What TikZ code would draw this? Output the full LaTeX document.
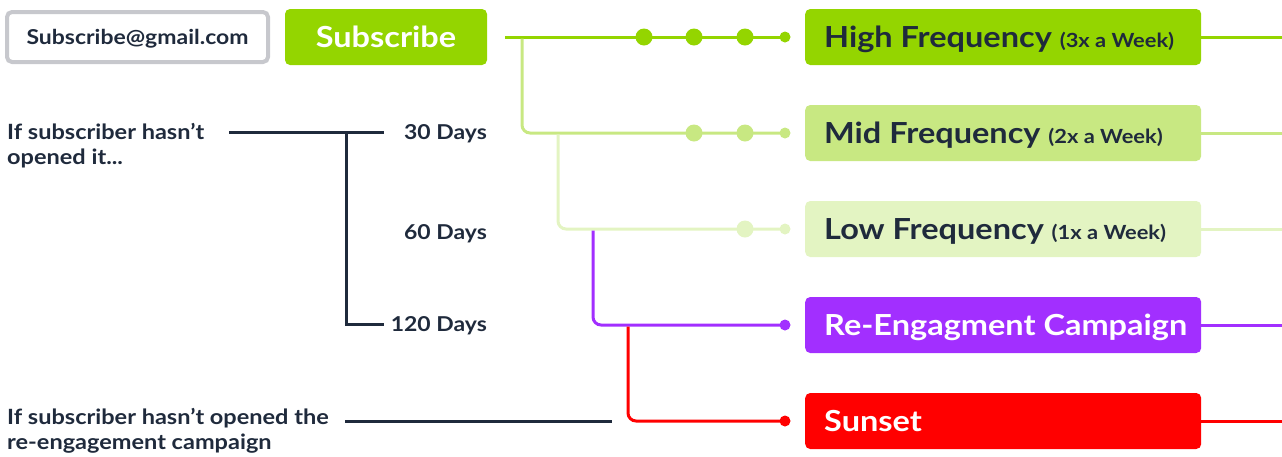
\documentclass[tikz,border=0pt]{standalone}
\usepackage{fontspec}
\setmainfont{Lato}[FakeStretch=1.12]
\definecolor{hi}{HTML}{94D500}
\definecolor{mid}{HTML}{C8E882}
\definecolor{low}{HTML}{E3F4C2}
\definecolor{pur}{HTML}{A22FFF}
\definecolor{sun}{HTML}{FF0000}
\definecolor{ink}{HTML}{1F2A3C}
\definecolor{gry}{HTML}{C7C8CD}
\newcommand\smtxt[1]{{\bfseries\fontsize{19.5}{20}\selectfont #1}}
\begin{document}
\begin{tikzpicture}[x=1pt,y=-1pt,
  box/.style={rounded corners=5pt, minimum width=396pt, minimum height=56pt,
    anchor=west, inner sep=0pt, text width=358pt, align=flush left,
    text height=21pt, text depth=0pt,
    font=\bfseries\fontsize{29}{30}\selectfont},
  lbl/.style={font=\bfseries\fontsize{21}{25}\selectfont, text=ink, inner sep=0pt, align=flush left},
  days/.style={font=\bfseries\fontsize{20.5}{20}\selectfont, text=ink, inner sep=0pt, anchor=east},
  wire/.style={line width=3pt},
  big/.style={radius=8.5pt},
  small/.style={radius=5.5pt}]
\useasboundingbox (0,0) rectangle (1282,456);

% top-left input and button
\node[draw=gry, line width=4pt, fill=white, rounded corners=5pt, minimum width=261pt,
  minimum height=50pt, inner sep=0pt, text=ink, text height=15pt, text depth=0pt,
  font=\bfseries\fontsize{20.5}{22}\selectfont] (mail) at (137.5,37) {Subscribe@gmail.com};
\node[fill=hi, rounded corners=5pt, minimum width=202pt, minimum height=56pt, inner sep=0pt,
  text=white, text height=21pt, text depth=0pt,
  font=\bfseries\fontsize{29}{30}\selectfont] (sub) at (386,37) {Subscribe};

% right boxes
\node[box, fill=hi, text=ink] (high) at (805,37) {\mbox{High Frequency \smtxt{(3x a Week)}}};
\node[box, fill=mid, text=ink] (midf) at (805,133) {\mbox{Mid Frequency \smtxt{(2x a Week)}}};
\node[box, fill=low, text=ink] (lowf) at (805,229) {\mbox{Low Frequency \smtxt{(1x a Week)}}};
\node[box, fill=pur, text=white] (reen) at (805,325) {\mbox{Re-Engagment Campaign}};
\node[box, fill=sun, text=white] (sunset) at (805,421) {Sunset};

% coordinates
\coordinate (s0) at (505,37);
\coordinate (e1) at (785,37);
\coordinate (e2) at (785,133);
\coordinate (e3) at (785,229);
\coordinate (e4) at (785,325);
\coordinate (e5) at (785,421);
\coordinate (b1) at (522,38.5);
\coordinate (b2) at (558,134.5);
\coordinate (b3) at (593,230.5);
\coordinate (b4) at (628,326.5);

% green tree
\draw[wire, hi] (s0) -- (e1);
\fill[hi] (644,37) circle[big] (694,37) circle[big] (745,37) circle[big] (e1) circle[small];
\draw[wire, mid, rounded corners=8pt] (b1) |- (e2);
\fill[mid] (694,133) circle[big] (745,133) circle[big] (e2) circle[small];
\draw[wire, low, rounded corners=8pt] (b2) |- (e3);
\fill[low] (745,229) circle[big] (e3) circle[small];
\draw[wire, pur, rounded corners=8pt] (b3) |- (e4);
\fill[pur] (e4) circle[small];
\draw[wire, sun, rounded corners=8pt] (b4) |- (e5);
\fill[sun] (e5) circle[small];

% tails
\coordinate (t1) at (1282,37);
\coordinate (t2) at (1282,133);
\coordinate (t3) at (1282,229);
\coordinate (t4) at (1282,325);
\coordinate (t5) at (1282,421);
\draw[wire, hi] (high.east) -- (t1);
\draw[wire, mid] (midf.east) -- (t2);
\draw[wire, low] (lowf.east) -- (t3);
\draw[wire, pur] (reen.east) -- (t4);
\draw[wire, sun] (sunset.east) -- (t5);

% left labels
\node[lbl, anchor=base west] (q1) at (7,164) {If subscriber hasn’t\\opened it...};
\node[lbl, anchor=base west] (q2) at (7,449.5) {If subscriber hasn’t opened the\\re-engagement campaign};
\node[days, anchor=base east] (d30) at (487,139.5) {30 Days};
\node[days, anchor=base east] (d60) at (487,239.5) {60 Days};
\node[days, anchor=base east] (d120) at (487,331.5) {120 Days};

\coordinate (l0) at (229,132);
\coordinate (l1) at (384,132);
\coordinate (lj) at (346,132);
\coordinate (l2) at (384,324);
\coordinate (m0) at (345,421);
\coordinate (m1) at (612,421);
\draw[wire, ink] (l0) -- (l1);
\draw[wire, ink] (lj) |- (l2);
\draw[wire, ink] (m0) -- (m1);
\end{tikzpicture}
\end{document}
